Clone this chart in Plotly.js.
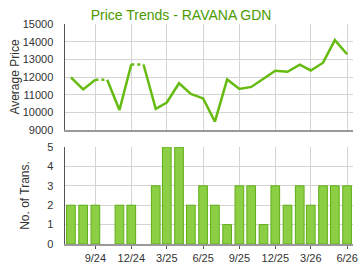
<!DOCTYPE html>
<html><head><meta charset="utf-8">
<script src="https://cdn.plot.ly/plotly-3.0.1.min.js"></script>
<style>html,body{margin:0;padding:0;background:#fff}#chart{width:360px;height:270px}</style>
</head><body><div id="chart"></div>
<script>
const months = ['2024-07-01','2024-08-01','2024-09-01','2024-10-01','2024-11-01','2024-12-01',
  '2025-01-01','2025-02-01','2025-03-01','2025-04-01','2025-05-01','2025-06-01',
  '2025-07-01','2025-08-01','2025-09-01','2025-10-01','2025-11-01','2025-12-01',
  '2026-01-01','2026-02-01','2026-03-01','2026-04-01','2026-05-01','2026-06-01'];
const avgPrice = [11980,11300,11850,11850,10130,12710,12710,10200,10560,11650,11040,10790,
  9480,11860,11320,11440,11900,12350,12300,12700,12370,12810,14090,13290];
const transCount = [2,2,2,0,2,2,0,3,5,5,2,3,2,1,3,3,1,3,2,3,2,3,3,3];
const chartTitle = 'Price Trends - RAVANA GDN';

function buildSegments(solid) {
  const xs = [], ys = [];
  let last = -1;
  for (let i = 1; i < months.length; i++) {
    const isSolid = transCount[i] > 0;
    if (isSolid !== solid) continue;
    if (last !== i - 1) {
      if (xs.length) { xs.push(null); ys.push(null); }
      xs.push(months[i-1]); ys.push(avgPrice[i-1]);
    }
    xs.push(months[i]); ys.push(avgPrice[i]);
    last = i;
  }
  return {xs, ys};
}
const solidSeg = buildSegments(true);
const dotSeg = buildSegments(false);
const green = '#66bb11';
const fam = '"Liberation Sans", Arial, sans-serif';
const font = {family: fam, size: 11, color: '#333'};

const traces = [
  {type: 'scatter', mode: 'lines', x: solidSeg.xs, y: solidSeg.ys, connectgaps: false,
   line: {color: green, width: 2.5}, xaxis: 'x', yaxis: 'y', hoverinfo: 'skip'},
  {type: 'scatter', mode: 'lines', x: dotSeg.xs, y: dotSeg.ys, connectgaps: false,
   line: {color: green, width: 2.5, dash: 'dot'}, xaxis: 'x', yaxis: 'y', hoverinfo: 'skip'},
  {type: 'bar', x: months, y: transCount.map(v => v > 0 ? v : null), width: 22*86400000,
   marker: {color: '#8ccf45', line: {color: '#5fae18', width: 1}}, xaxis: 'x2', yaxis: 'y2'}
];

const xcommon = {type: 'date', range: ['2024-06-16','2026-06-16'], tick0: '2024-09-01', dtick: 'M3',
  tickformat: '%-m/%y', showgrid: true, gridcolor: '#d4d4d4', gridwidth: 1, zeroline: false,
  showline: true, linecolor: '#999', linewidth: 1.5, tickfont: font, fixedrange: true};

const layout = {
  width: 360, height: 270,
  margin: {l: 65, r: 7, t: 24, b: 26},
  paper_bgcolor: '#fff', plot_bgcolor: '#fff',
  showlegend: false, font: font,
  title: {text: chartTitle, font: {family: fam, size: 14, color: '#4c9a00'},
          x: 0.503, xref: 'container', xanchor: 'center', y: 0.944, yanchor: 'middle'},
  xaxis: Object.assign({}, xcommon, {domain: [0,1], anchor: 'y', showticklabels: false, ticks: ''}),
  xaxis2: Object.assign({}, xcommon, {domain: [0,1], anchor: 'y2', matches: 'x', ticks: 'outside', ticklen: 3, tickcolor: '#555'}),
  yaxis: {domain: [0.518, 1], range: [9000, 15000], dtick: 1000, tickformat: 'd', showgrid: true, gridcolor: '#d4d4d4',
          zeroline: false, showline: true, linecolor: '#555', linewidth: 1.5, ticks: '',
          ticklabelstandoff: 8, tickfont: font,
          title: {text: 'Average Price', font: {family: fam, size: 12, color: '#333'}, standoff: 0}},
  yaxis2: {domain: [0, 0.441], range: [0, 5], dtick: 1, showgrid: true, gridcolor: '#d4d4d4',
          zeroline: false, showline: true, linecolor: '#555', linewidth: 1.5, ticks: '',
          ticklabelstandoff: 8, tickfont: font,
          title: {text: 'No. of Trans.', font: {family: fam, size: 12, color: '#333'}, standoff: 15}},
  bargap: 0
};
Plotly.newPlot('chart', traces, layout, {staticPlot: true, displayModeBar: false});
</script></body></html>
